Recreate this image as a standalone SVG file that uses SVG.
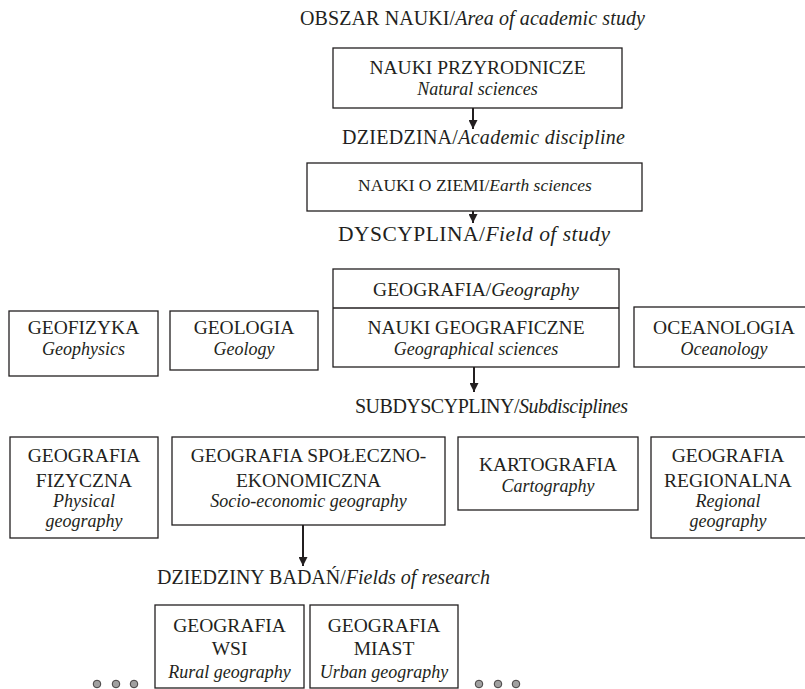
<svg xmlns="http://www.w3.org/2000/svg" width="805" height="689" viewBox="0 0 805 689">
<defs>
<style>
text{font-family:"Liberation Serif","Times New Roman",serif;fill:#231f20;text-anchor:middle;}
.n{font-size:19.5px;}
.i{font-size:18px;font-style:italic;}
.h{font-size:20px;text-anchor:start;}
.box{fill:#fff;stroke:#231f20;stroke-width:1.3;}
.conn{stroke:#231f20;stroke-width:2;fill:none;}
.dot{fill:#a0a0a0;stroke:#231f20;stroke-width:0.8;}
</style>
<marker id="ah" viewBox="0 0 10 10" refX="10" refY="5" markerWidth="4.5" markerHeight="4.5" orient="auto" markerUnits="strokeWidth">
<path d="M0,0 L10,5 L0,10 z" fill="#231f20"/>
</marker>
</defs>
<rect width="805" height="689" fill="#fff"/>

<g id="labels">
<text class="h" x="300" y="25" textLength="345" lengthAdjust="spacing">OBSZAR NAUKI/<tspan font-style="italic">Area of academic study</tspan></text>
<text class="h" x="342" y="144" textLength="283" lengthAdjust="spacing">DZIEDZINA/<tspan font-style="italic">Academic discipline</tspan></text>
<text class="h" x="338" y="241" textLength="272" lengthAdjust="spacing" style="font-size:21.5px">DYSCYPLINA/<tspan font-style="italic">Field of study</tspan></text>
<text class="h" x="355" y="413" textLength="273" lengthAdjust="spacing">SUBDYSCYPLINY/<tspan font-style="italic">Subdisciplines</tspan></text>
<text class="h" x="157" y="584" textLength="333" lengthAdjust="spacing">DZIEDZINY BADAŃ/<tspan font-style="italic">Fields of research</tspan></text>
</g>

<g id="connectors">
<line class="conn" x1="473" y1="108" x2="473" y2="129" marker-end="url(#ah)"/>
<line class="conn" x1="473" y1="211" x2="473" y2="223" marker-end="url(#ah)"/>
<line class="conn" x1="474" y1="367" x2="474" y2="392" marker-end="url(#ah)"/>
<line class="conn" x1="303" y1="525" x2="303" y2="566" marker-end="url(#ah)"/>
</g>

<g id="nauki-przyrodnicze">
<rect class="box" x="333" y="48" width="289" height="60"/>
<text class="n" x="477.5" y="74">NAUKI PRZYRODNICZE</text>
<text class="i" x="477.5" y="95">Natural sciences</text>
</g>

<g id="nauki-o-ziemi">
<rect class="box" x="307" y="163" width="335" height="48"/>
<text class="n" x="475" y="191" style="font-size:17.5px">NAUKI O ZIEMI/<tspan font-style="italic">Earth sciences</tspan></text>
</g>

<g id="geofizyka">
<rect class="box" x="9" y="311" width="149" height="65"/>
<text class="n" x="83.5" y="334">GEOFIZYKA</text>
<text class="i" x="83.5" y="355">Geophysics</text>
</g>

<g id="geologia">
<rect class="box" x="170" y="311" width="148" height="59"/>
<text class="n" x="244" y="334">GEOLOGIA</text>
<text class="i" x="244" y="355">Geology</text>
</g>

<g id="geografia">
<rect class="box" x="333" y="269" width="286" height="98"/>
<line class="box" x1="333" y1="308" x2="619" y2="308"/>
<text class="n" x="476" y="296">GEOGRAFIA/<tspan font-style="italic">Geography</tspan></text>
<text class="n" x="476" y="334">NAUKI GEOGRAFICZNE</text>
<text class="i" x="476" y="355">Geographical sciences</text>
</g>

<g id="oceanologia">
<rect class="box" x="634" y="307" width="180" height="60"/>
<text class="n" x="724" y="334">OCEANOLOGIA</text>
<text class="i" x="724" y="355">Oceanology</text>
</g>

<g id="geografia-fizyczna">
<rect class="box" x="10" y="437" width="148" height="101"/>
<text class="n" x="84" y="462">GEOGRAFIA</text>
<text class="n" x="84" y="487">FIZYCZNA</text>
<text class="i" x="84" y="507">Physical</text>
<text class="i" x="84" y="527">geography</text>
</g>

<g id="geografia-spoleczno-ekonomiczna">
<rect class="box" x="172" y="437" width="273" height="88"/>
<text class="n" x="308.5" y="462">GEOGRAFIA SPOŁECZNO-</text>
<text class="n" x="308.5" y="487">EKONOMICZNA</text>
<text class="i" x="308.5" y="507">Socio-economic geography</text>
</g>

<g id="kartografia">
<rect class="box" x="458" y="437" width="180" height="73"/>
<text class="n" x="548" y="471">KARTOGRAFIA</text>
<text class="i" x="548" y="492">Cartography</text>
</g>

<g id="geografia-regionalna">
<rect class="box" x="651" y="437" width="160" height="101"/>
<text class="n" x="728" y="462">GEOGRAFIA</text>
<text class="n" x="728" y="487">REGIONALNA</text>
<text class="i" x="728" y="507">Regional</text>
<text class="i" x="728" y="527">geography</text>
</g>

<g id="geografia-wsi">
<rect class="box" x="155" y="605" width="149" height="83"/>
<text class="n" x="229.5" y="632">GEOGRAFIA</text>
<text class="n" x="229.5" y="655">WSI</text>
<text class="i" x="229.5" y="678">Rural  geography</text>
</g>

<g id="geografia-miast">
<rect class="box" x="310" y="605" width="148" height="83"/>
<text class="n" x="384" y="632">GEOGRAFIA</text>
<text class="n" x="384" y="655">MIAST</text>
<text class="i" x="384" y="678">Urban geography</text>
</g>

<g id="ellipsis-left">
<circle class="dot" cx="97" cy="684" r="3.8"/>
<circle class="dot" cx="116" cy="684" r="3.8"/>
<circle class="dot" cx="134" cy="684" r="3.8"/>
</g>
<g id="ellipsis-right">
<circle class="dot" cx="479" cy="684" r="3.8"/>
<circle class="dot" cx="498" cy="684" r="3.8"/>
<circle class="dot" cx="516" cy="684" r="3.8"/>
</g>
</svg>
